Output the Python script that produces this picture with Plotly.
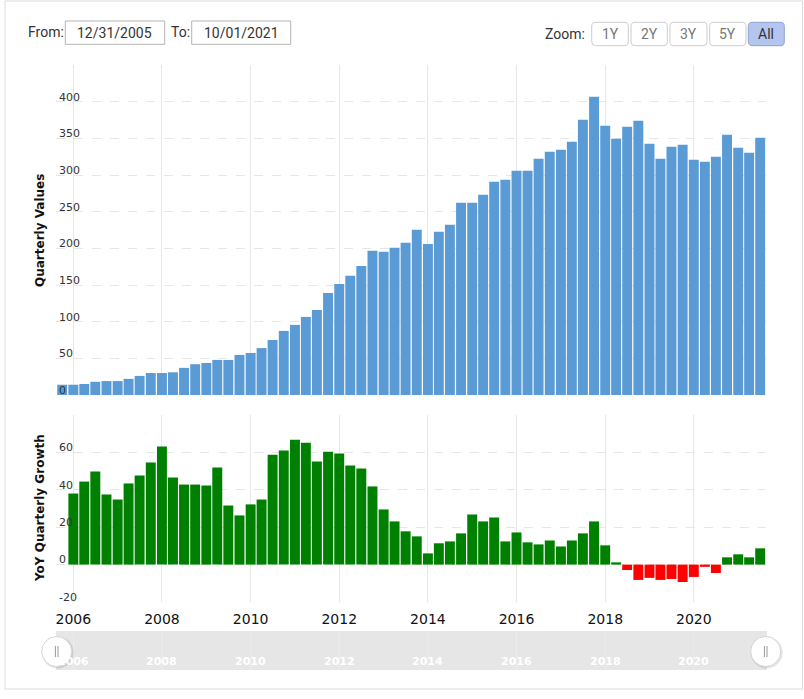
import plotly.graph_objects as go
import pandas as pd

W, H = 804, 699

# ---------------- data ----------------
quarters = pd.date_range("2005-10-01", periods=64, freq="QS")

quarterly_values = [14, 14, 15, 18, 19, 19, 22, 26, 30, 30,
                    31, 37, 42, 43.7, 47.8, 47.8, 54.6, 57.3, 64, 75,
                    87.4, 95.6, 106.5, 116, 139, 151.5, 162.5, 176, 196.6, 195.2,
                    200.7, 207.5, 225.3, 206, 222.5, 232, 262, 262, 273, 290.8,
                    293.5, 305.8, 305.8, 322, 331.7, 334.5, 345.4, 375.4, 406.8, 367.2,
                    349.5, 365.9, 374, 342.7, 322, 338.6, 341.3, 320.8, 318, 325,
                    355, 337.2, 330.4, 350.9]

growth_quarters = quarters[1:]
yoy_growth = [38.0, 44.4, 49.8, 37.5, 34.8, 43.4, 47.6, 54.6, 63.1,
              46.6, 42.8, 42.8, 42.3, 51.9, 31.6, 26.3, 32.2, 34.8, 58.8,
              61.0, 66.8, 65.2, 55.1, 60.4, 59.4, 53.0, 51.4, 41.8, 29.5,
              23.1, 17.8, 15.1, 6.0, 11.4, 12.4, 16.7, 26.8, 23.1, 25.2,
              12.4, 17.2, 11.9, 10.8, 12.9, 9.7, 12.9, 16.7, 23.1, 10.3,
              1.2, -2.9, -8.2, -7.1, -8.2, -7.7, -9.3, -6.6, -1.2, -4.5,
              3.9, 5.5, 3.9, 8.7]

top_ticks = [0, 50, 100, 150, 200, 250, 300, 350, 400, 450]
top_ticktext = ["0", "50", "100", "150", "200", "250", "300", "350", "400", ""]
bot_ticks = [-20, 0, 20, 40, 60, 80]
bot_ticktext = ["-20", "0", "20", "40", "60", ""]
year_ticks = ["2006", "2008", "2010", "2012", "2014", "2016", "2018", "2020"]
zoom_buttons = ["1Y", "2Y", "3Y", "5Y", "All"]
from_date, to_date = "12/31/2005", "10/01/2021"

BLUE = "#5B9BD5"
GREEN = "#008000"
RED = "#FF0000"
GRID = "#e6e6e6"
TXT = "#333333"


def px(x):
    return x / W


def py(y):
    return 1 - y / H


xrange_ = ["2005-08-11", "2021-08-18"]
bar_w = 82 * 86400000
year_dates = [y + "-01-01" for y in year_ticks]

fig = go.Figure()
fig.add_trace(go.Bar(x=quarters, y=quarterly_values, marker_color=BLUE,
                     marker_line_width=0, width=bar_w, xaxis="x", yaxis="y",
                     showlegend=False))
fig.add_trace(go.Bar(x=growth_quarters, y=yoy_growth,
                     marker_color=[GREEN if v >= 0 else RED for v in yoy_growth],
                     marker_line_width=0, width=bar_w, xaxis="x2", yaxis="y2",
                     showlegend=False))

xcommon = dict(type="date", range=xrange_, domain=[px(56), px(766)],
               showgrid=True, gridcolor=GRID, gridwidth=1,
               tickmode="array", tickvals=year_dates, ticktext=year_ticks,
               zeroline=False, showline=False, ticks="", automargin=False,
               fixedrange=True, ticklabeloverflow="allow")
ycommon = dict(showgrid=True, gridcolor=GRID, griddash="dash", zeroline=False,
               showline=False, ticks="", ticklabelposition="inside",
               ticklabelshift=-5, ticklabelstandoff=0, ticklabeloverflow="allow",
               tickfont=dict(family="DejaVu Sans", size=11, color=TXT),
               automargin=False, fixedrange=True)

fig.update_layout(
    width=W, height=H, margin=dict(l=0, r=0, t=0, b=0),
    paper_bgcolor="white", plot_bgcolor="white",
    bargap=0.09,
    xaxis=dict(xcommon, anchor="y", showticklabels=False),
    xaxis2=dict(xcommon, anchor="y2", matches="x", showticklabels=True,
                ticklabelstandoff=7,
                tickfont=dict(family="DejaVu Sans", size=14, color="#111")),
    yaxis=dict(ycommon, anchor="x", domain=[py(395), py(65)], range=[0, 450],
               tickvals=top_ticks, ticktext=top_ticktext),
    yaxis2=dict(ycommon, anchor="x2", domain=[py(602), py(415)], range=[-20, 80],
                tickvals=bot_ticks, ticktext=bot_ticktext),
)

shapes = []
annotations = []


def ann(text, x, y, size=14, color=TXT, family="Roboto", xanchor="center",
        xref="paper", **kw):
    d = dict(text=text, xref=xref, yref="paper", x=x, y=y, showarrow=False,
             xanchor=xanchor, yanchor="middle",
             font=dict(family=family, size=size, color=color))
    d.update(kw)
    return d


# container border
shapes.append(dict(type="rect", xref="paper", yref="paper",
                   x0=px(5), x1=px(802.5), y0=py(689), y1=py(1),
                   line=dict(color="#dcdcdc", width=1), fillcolor="rgba(0,0,0,0)",
                   layer="below"))

# axis titles
annotations.append(ann("<b>Quarterly Values</b>", px(40), py(231), size=12,
                       color="#111", family="DejaVu Sans", textangle=-90))
annotations.append(ann("<b>YoY Quarterly Growth</b>", px(40), py(508), size=12,
                       color="#111", family="DejaVu Sans", textangle=-90))

# navigator
shapes.append(dict(type="rect", xref="paper", yref="paper",
                   x0=px(56), x1=px(767), y0=py(670), y1=py(631),
                   fillcolor="#e6e6e6", line=dict(width=0)))
for yd, yr in zip(year_dates, year_ticks):
    shapes.append(dict(type="line", xref="x", yref="paper",
                       x0=yd, x1=yd, y0=py(670), y1=py(631),
                       line=dict(color="#ececec", width=1)))
    a = ann(yr, yd, py(661.5), size=11, color="white", family="DejaVu Sans", xref="x")
    a["font"]["weight"] = "bold"
    annotations.append(a)


def circle(cx, cy, r, **kw):
    return dict(type="circle", xref="paper", yref="paper",
                x0=px(cx - r), x1=px(cx + r), y0=py(cy + r), y1=py(cy - r), **kw)


for cx in (56.7, 765.7):
    shapes.append(circle(cx + 1, 652.5, 16, fillcolor="rgba(0,0,0,0.10)",
                         line=dict(width=0)))
    shapes.append(circle(cx, 651.5, 15, fillcolor="white",
                         line=dict(color="#d6d6d6", width=1)))
    for dx in (-1.3, 1.3):
        shapes.append(dict(type="line", xref="paper", yref="paper",
                           x0=px(cx + dx), x1=px(cx + dx), y0=py(657), y1=py(646),
                           line=dict(color="#999", width=1)))

# top controls
annotations.append(ann("From:", px(26), py(32.5), xanchor="left"))
annotations.append(ann("To:", px(168.5), py(32.5), xanchor="left"))
for (x0, x1), txt in zip([(65.3, 164.7), (191.7, 290.7)], [from_date, to_date]):
    shapes.append(dict(type="rect", xref="paper", yref="paper",
                       x0=px(x0), x1=px(x1), y0=py(44.3), y1=py(21),
                       fillcolor="white", line=dict(color="#b4b4b4", width=1)))
    annotations.append(ann(txt, px((x0 + x1) / 2), py(32.7)))

annotations.append(ann("Zoom:", px(587), py(33.5), xanchor="right"))


def rrect(x0, y0, x1, y1, r):
    P = lambda x, y: f"{px(x):.5f},{py(y):.5f}"
    return (f"M {P(x0 + r, y0)} L {P(x1 - r, y0)} Q {P(x1, y0)} {P(x1, y0 + r)} "
            f"L {P(x1, y1 - r)} Q {P(x1, y1)} {P(x1 - r, y1)} "
            f"L {P(x0 + r, y1)} Q {P(x0, y1)} {P(x0, y1 - r)} "
            f"L {P(x0, y0 + r)} Q {P(x0, y0)} {P(x0 + r, y0)} Z")


btn_x = [(591.7, 628.3), (631, 667.3), (670, 707), (709.7, 746), (748.3, 784.3)]
for (x0, x1), lab in zip(btn_x, zoom_buttons):
    active = lab == "All"
    shapes.append(dict(type="path", xref="paper", yref="paper",
                       path=rrect(x0, 22.3, x1, 45.7, 4),
                       fillcolor="#b4c6ef" if active else "white",
                       line=dict(color="#8ea2cf" if active else "#cccccc", width=1)))
    annotations.append(ann(lab, px((x0 + x1) / 2), py(34),
                           color="#333" if active else "#777"))

fig.update_layout(shapes=shapes, annotations=annotations)
fig.write_html("out.html")
